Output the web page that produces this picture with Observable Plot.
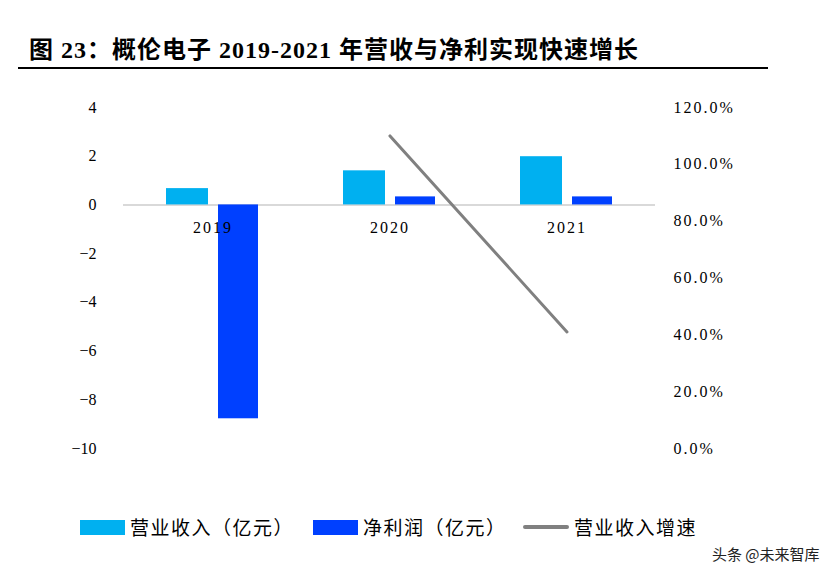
<!DOCTYPE html>
<html>
<head>
<meta charset="utf-8">
<script src="https://cdn.jsdelivr.net/npm/d3@7"></script>
<script src="https://cdn.jsdelivr.net/npm/@observablehq/plot@0.6"></script>
<style>
  html, body { margin: 0; padding: 0; background: #fff; }
  #page { position: relative; width: 825px; height: 578px; overflow: hidden; }
  #title { position: absolute; left: 29px; top: 35px; font-family: "Liberation Serif", "Noto Sans CJK SC", serif; font-weight: 700; font-size: 24px; letter-spacing: 1px; color: #000; white-space: nowrap; line-height: 30px; }
  #rule { position: absolute; left: 18px; top: 67px; width: 750px; height: 2px; background: #000; }
  #chart { position: absolute; left: 0; top: 80px; }
  #legend { position: absolute; left: 0; top: 514px; width: 825px; height: 26px; font-family: "Noto Sans CJK SC", sans-serif; font-size: 19px; letter-spacing: 1.5px; color: #000; }
  .item { position: absolute; top: 0; height: 26px; line-height: 26px; white-space: nowrap; }
  .sw { position: absolute; }
  #wm { position: absolute; left: 712px; top: 543px; font-family: "Noto Sans CJK SC", sans-serif; font-size: 15px; color: #222; white-space: nowrap; }
</style>
</head>
<body>
<div id="page">
  <div id="title">图 23：概伦电子 2019-2021 年营收与净利实现快速增长</div>
  <div id="rule"></div>
  <div id="chart"></div>
  <div id="legend"></div>
  <div id="wm">头条 @未来智库</div>
</div>
<script>
const years = ["2019", "2020", "2021"];
const revenue = [0.67, 1.40, 1.98];          // 营业收入（亿元）
const netProfit = [-8.78, 0.33, 0.33];       // 净利润（亿元）
const growthYears = ["2020", "2021"];
const revenueGrowth = [110, 41];             // 营业收入增速 (%)
const leftTicks = [4, 2, 0, -2, -4, -6, -8, -10];
const rightTicks = [0, 20, 40, 60, 80, 100, 120];
const seriesNames = ["营业收入（亿元）", "净利润（亿元）", "营业收入增速"];
const colors = ["#00b0f0", "#0040ff", "#808080"];

const rows = years.map((y, i) => ({year: y, revenue: revenue[i], profit: netProfit[i]}));
const growthRows = growthYears.map((y, i) => ({year: y, growth: revenueGrowth[i]}));

// secondary axis: map percent [0,120] onto the primary domain [-10,4]
const toLeft = d3.scaleLinear().domain([0, 120]).range([-10, 4]);

const numFont = {fontFamily: "Liberation Serif, serif", fontSize: 16};

const chart = Plot.plot({
  width: 825,
  height: 420,
  marginLeft: 123,
  marginRight: 170,
  marginTop: 27,
  marginBottom: 52,
  style: {fontFamily: "Liberation Serif, serif", fontSize: "16px", color: "#000", background: "transparent"},
  x: {type: "band", domain: years, padding: 0, axis: null},
  y: {domain: [-10, 4]},
  marks: [
    Plot.ruleY([0], {stroke: "#d9d9d9", strokeWidth: 2}),
    Plot.barY(rows, {x: "year", y: "revenue", fill: colors[0], insetLeft: 42, insetRight: 93}),
    Plot.barY(rows, {x: "year", y: "profit", fill: colors[1], insetLeft: 94, insetRight: 43}),
    Plot.line(growthRows, {x: "year", y: d => toLeft(d.growth), stroke: colors[2], strokeWidth: 3}),
    Plot.text(years, {x: d => d, y: 0, dy: 23, text: d => d, fill: "#000", ...numFont}),
    Plot.axisY(leftTicks, {anchor: "left", tickSize: 0, tickPadding: 27, ...numFont,
      tickFormat: d => d < 0 ? "\u2212" + Math.abs(d) : String(d)}),
    Plot.axisY(rightTicks.map(toLeft), {anchor: "right", tickSize: 0, tickPadding: 18, ...numFont, textAnchor: "start",
      tickFormat: d => toLeft.invert(d).toFixed(1) + "%"})
  ]
});
document.getElementById("chart").appendChild(chart);
// letter-spacing on right axis labels and year labels
chart.querySelectorAll("text").forEach(t => { if (/%/.test(t.textContent) || /^20\d\d$/.test(t.textContent)) t.style.letterSpacing = "2px"; });

// legend
const legend = document.getElementById("legend");
const items = [
  {x: 80, w: 45, h: 15, type: "rect"},
  {x: 313, w: 45, h: 15, type: "rect"},
  {x: 523, w: 46, h: 4, type: "line"}
];
items.forEach((it, i) => {
  const d = document.createElement("div");
  d.className = "item";
  d.style.left = it.x + "px";
  const sw = document.createElement("div");
  sw.className = "sw";
  sw.style.left = "0px";
  sw.style.top = (13 - it.h / 2) + "px";
  sw.style.width = it.w + "px";
  sw.style.height = it.h + "px";
  sw.style.background = colors[i];
  if (it.type === "line") sw.style.borderRadius = "2px";
  const t = document.createElement("span");
  t.textContent = seriesNames[i];
  t.style.position = "absolute";
  t.style.left = (it.w + 5) + "px";
  t.style.top = "0px";
  d.appendChild(sw);
  d.appendChild(t);
  legend.appendChild(d);
});
</script>
</body>
</html>
